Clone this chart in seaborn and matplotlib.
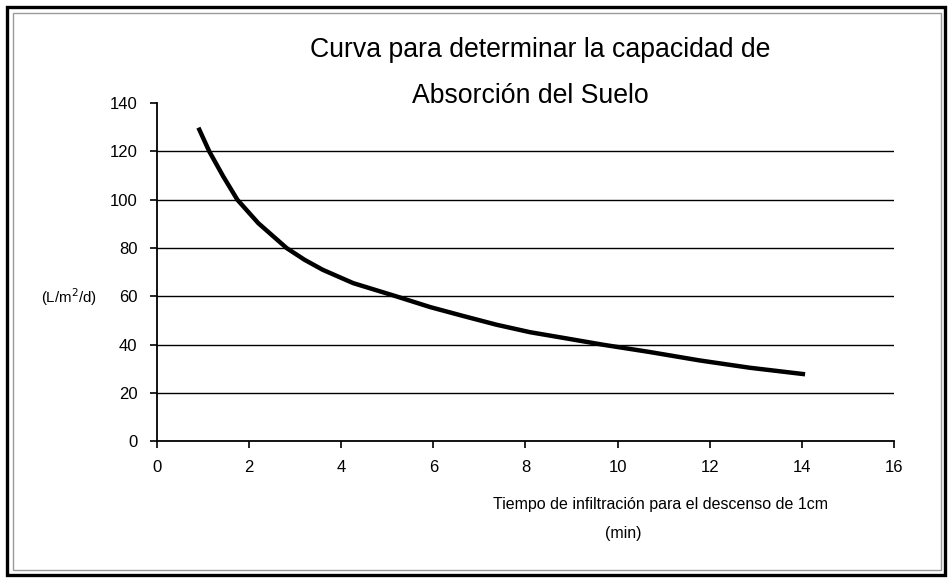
import numpy as np
import pandas as pd
import seaborn as sns
import matplotlib.pyplot as plt
from matplotlib.patches import Rectangle

# curve
tiempo = [0.9, 1.135, 1.44, 1.745, 2.2, 2.815, 3.2, 3.6, 4.26, 5.2, 5.93, 6.65, 7.37, 8.1,
          8.9, 9.69, 10.7, 11.79, 12.87, 14.07]
absorcion = [129.8, 120, 109.6, 100, 90.3, 80, 75.2, 71, 65.5, 60, 55.6, 51.9, 48.3, 45.2,
             42.6, 40, 37.0, 33.5, 30.5, 27.8]

x_ticks = list(range(0, 17, 2))
y_ticks = list(range(0, 141, 20))

df = pd.DataFrame({"t": tiempo, "q": absorcion})

sns.set_theme(style="white")
plt.rcParams['font.family'] = ['Liberation Sans', 'DejaVu Sans']

fig = plt.figure(figsize=(9.49, 5.79), dpi=100)
ax = fig.add_axes([0.1654, 0.2375, 0.942 - 0.1654, 0.5846])

sns.lineplot(data=df, x="t", y="q", ax=ax, color="black", linewidth=3.2, sort=False,
             solid_capstyle="butt", solid_joinstyle="round")

ax.set_xlim(0, 16)
ax.set_ylim(0, 140)
ax.set_xticks(x_ticks)
ax.set_yticks(y_ticks)
ax.tick_params(axis="both", direction="out", length=5, width=1.2, color="black",
               labelsize=12, labelcolor="black", left=True, bottom=True)
ax.tick_params(axis="y", pad=9)
ax.tick_params(axis="x", pad=8)

# horizontal gridlines, none on top row (hidden by title box)
for yv in y_ticks[1:-1]:
    ax.axhline(yv, color="black", linewidth=1.0, zorder=0)

sns.despine(ax=ax, top=True, right=True)
for s in ["left", "bottom"]:
    ax.spines[s].set_color("black")
    ax.spines[s].set_linewidth(1.3)

ax.set_xlabel("")
ax.set_ylabel("")

fig.text(0.5695, 0.9136, "Curva para determinar la capacidad de", fontsize=19.2,
         ha="center", va="center", color="black")
fig.text(0.5585, 0.834, "Absorción del Suelo", fontsize=19.2,
         ha="center", va="center", color="black")
fig.text(0.0732, 0.487, "(L/m$^2$/d)", fontsize=10.8, ha="center", va="center", color="black")
fig.text(0.6955, 0.128, "Tiempo de infiltración para el descenso de 1cm", fontsize=11.5,
         ha="center", va="center", color="black")
fig.text(0.6565, 0.0794, "(min)", fontsize=11.5, ha="center", va="center", color="black")

# double frame round the picture
fig.patches.append(Rectangle((7 / 949, 4 / 579), 938 / 949, 568 / 579, transform=fig.transFigure,
                             fill=False, edgecolor="black", linewidth=2.4))
fig.patches.append(Rectangle((12.5 / 949, 9 / 579), 928 / 949, 557 / 579, transform=fig.transFigure,
                             fill=False, edgecolor="#9a9a9a", linewidth=1.0))

fig.savefig("out.png", dpi=100)
